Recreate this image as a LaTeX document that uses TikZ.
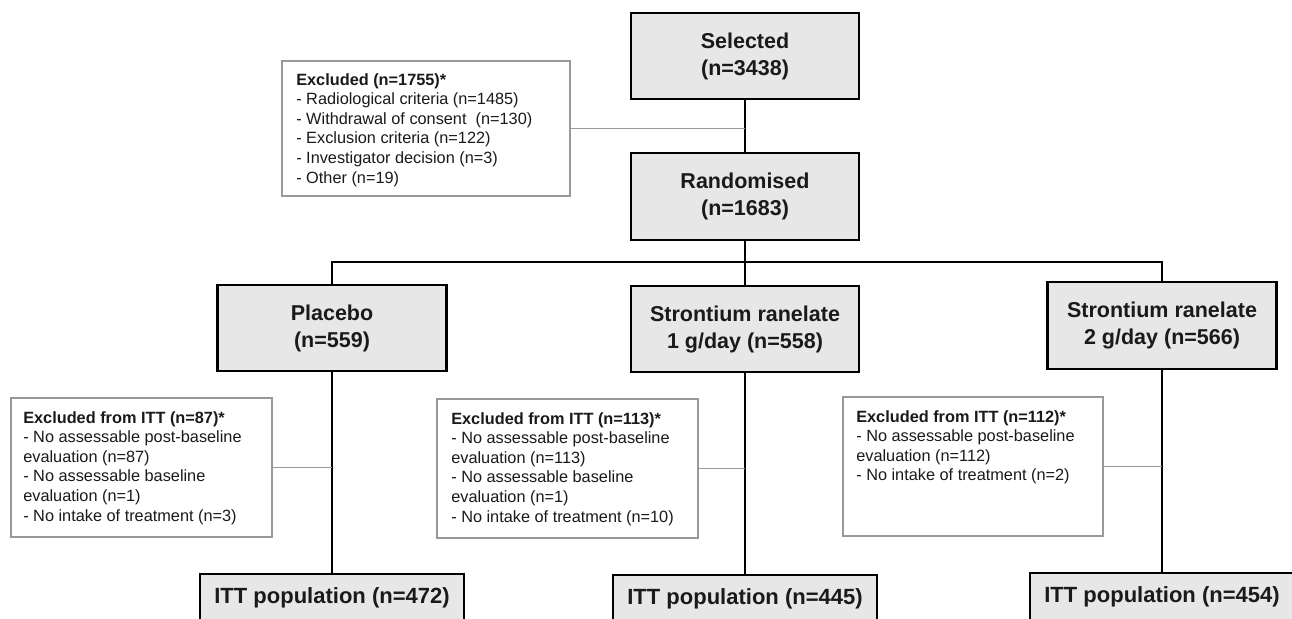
\documentclass[tikz,border=0pt]{standalone}
\usepackage{fontspec}
\setmainfont{Liberation Sans}
\usetikzlibrary{calc}
\definecolor{boxgray}{HTML}{E7E7E7}
\definecolor{exgray}{HTML}{999999}
\definecolor{ink}{HTML}{1A1A1A}
\begin{document}
\begin{tikzpicture}[x=1pt,y=-1pt,
  mainbox/.style={draw=black, line width=2.6pt, fill=boxgray, minimum width=228pt, minimum height=86pt, inner sep=0pt, align=center, text=ink, font=\bfseries\fontsize{21.5}{27}\selectfont},
  ittbox/.style={mainbox, minimum width=264pt, minimum height=48pt, font=\bfseries\fontsize{22}{27}\selectfont},
  exbox/.style={draw=exgray, line width=1.8pt, fill=white, inner sep=0pt},
  extext/.style={anchor=north west, align=left, inner sep=0pt, text=ink, font=\fontsize{16.3}{19.6}\selectfont},
  link/.style={line width=2.5pt, draw=black},
  glink/.style={line width=1.6pt, draw=exgray}]
\useasboundingbox (0,0) rectangle (1292,618);
\clip (0,0) rectangle (1292,618);
\fill[white] (0,0) rectangle (1292,618);

% main boxes
\node[mainbox] (sel) at (745,56) {Selected\\(n=3438)};
\node[mainbox, minimum height=87pt] (rand) at (745,196.5) {Randomised\\(n=1683)};
\node[mainbox, minimum width=229pt] (plac) at (332,328) {Placebo\\(n=559)};
\node[mainbox] (s1) at (745,329) {Strontium ranelate\\1 g/day (n=558)};
\node[mainbox, minimum width=229pt, minimum height=87pt] (s2) at (1162,325.5) {Strontium ranelate\\2 g/day (n=566)};
\node[ittbox] (itt1) at (332,598) {ITT population (n=472)};
\node[ittbox] (itt2) at (745,599) {ITT population (n=445)};
\node[ittbox] (itt3) at (1162,597) {ITT population (n=454)};

% exclusion boxes
\node[exbox, minimum width=288pt, minimum height=135pt] (ex0) at (426,128.5) {};
\node[extext] (ex0t) at ($(ex0.north west)+(15,13)$) {\textbf{Excluded (n=1755)*}\\
- Radiological criteria (n=1485)\\
- Withdrawal of consent~ (n=130)\\
- Exclusion criteria (n=122)\\
- Investigator decision (n=3)\\
- Other (n=19)};

\node[exbox, minimum width=261pt, minimum height=139pt] (ex1) at (141.5,467.5) {};
\node[extext] (ex1t) at ($(ex1.north west)+(13,14)$) {\textbf{Excluded from ITT (n=87)*}\\
- No assessable post-baseline\\
evaluation (n=87)\\
- No assessable baseline\\
evaluation (n=1)\\
- No intake of treatment (n=3)};

\node[exbox, minimum width=261pt, minimum height=139pt] (ex2) at (567.5,468.5) {};
\node[extext] (ex2t) at ($(ex2.north west)+(15,14)$) {\textbf{Excluded from ITT (n=113)*}\\
- No assessable post-baseline\\
evaluation (n=113)\\
- No assessable baseline\\
evaluation (n=1)\\
- No intake of treatment (n=10)};

\node[exbox, minimum width=260pt, minimum height=139pt] (ex3) at (973,466.5) {};
\node[extext] (ex3t) at ($(ex3.north west)+(14,14)$) {\textbf{Excluded from ITT (n=112)*}\\
- No assessable post-baseline\\
evaluation (n=112)\\
- No intake of treatment (n=2)};

% connectors
\coordinate (br) at (745,262);
\draw[link] (sel.south) -- (rand.north);
\draw[link] (rand.south) -- (br);
\draw[link] (plac.north) |- (br);
\draw[link] (s2.north) |- (br);
\draw[link] (br) -- (s1.north);
\draw[link] (plac.south) -- (itt1.north);
\draw[link] (s1.south) -- (itt2.north);
\draw[link] (s2.south) -- (itt3.north);

\draw[glink] (ex0.east) -- (ex0.east -| sel.south);
\draw[glink] (ex1.east) -- (ex1.east -| plac.south);
\draw[glink] (ex2.east) -- (ex2.east -| s1.south);
\draw[glink] (ex3.east) -- (ex3.east -| s2.south);
\end{tikzpicture}
\end{document}
